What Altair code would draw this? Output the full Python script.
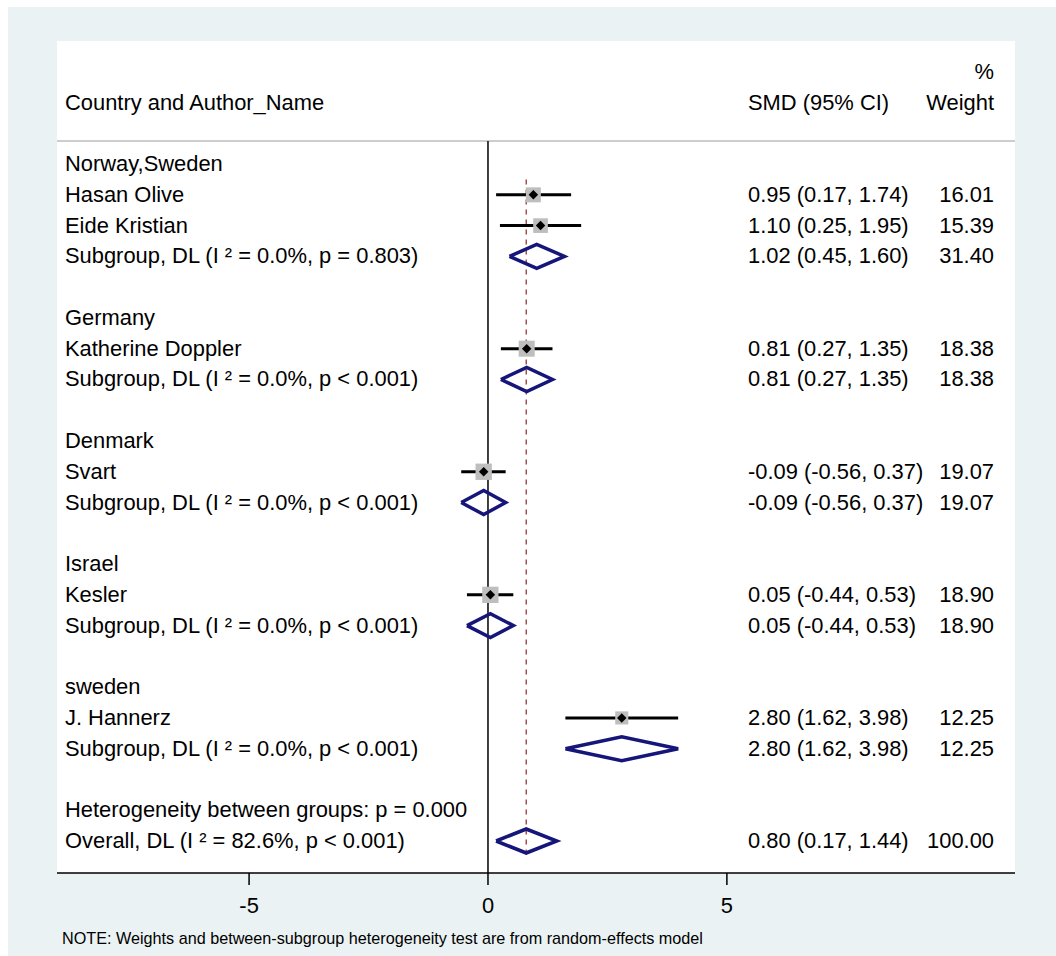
import altair as alt
import pandas as pd

# ---- data ----
row_idx = [0, 1, 2, 3, 5, 6, 7, 9, 10, 11, 13, 14, 15, 17, 18, 19, 21, 22]
row_label = [
    "Norway,Sweden", "Hasan Olive", "Eide Kristian",
    "Subgroup, DL (I ² = 0.0%, p = 0.803)",
    "Germany", "Katherine Doppler",
    "Subgroup, DL (I ² = 0.0%, p < 0.001)",
    "Denmark", "Svart",
    "Subgroup, DL (I ² = 0.0%, p < 0.001)",
    "Israel", "Kesler",
    "Subgroup, DL (I ² = 0.0%, p < 0.001)",
    "sweden", "J. Hannerz",
    "Subgroup, DL (I ² = 0.0%, p < 0.001)",
    "Heterogeneity between groups: p = 0.000",
    "Overall, DL (I ² = 82.6%, p < 0.001)",
]
row_kind = ["head", "study", "study", "pool", "head", "study", "pool", "head", "study", "pool",
            "head", "study", "pool", "head", "study", "pool", "het", "pool"]
est = [None, 0.95, 1.10, 1.02, None, 0.81, 0.81, None, -0.09, -0.09,
       None, 0.05, 0.05, None, 2.80, 2.80, None, 0.80]
lci = [None, 0.17, 0.25, 0.45, None, 0.27, 0.27, None, -0.56, -0.56,
       None, -0.44, -0.44, None, 1.62, 1.62, None, 0.17]
uci = [None, 1.74, 1.95, 1.60, None, 1.35, 1.35, None, 0.37, 0.37,
       None, 0.53, 0.53, None, 3.98, 3.98, None, 1.44]
weight = [None, 16.01, 15.39, 31.40, None, 18.38, 18.38, None, 19.07, 19.07,
          None, 18.90, 18.90, None, 12.25, 12.25, None, 100.00]
overall_est = 0.80
x_ticks = [-5, 0, 5]
x_tick_labels = ["-5", "0", "5"]

# ---- tables ----
rows = pd.DataFrame({"row": row_idx, "label": row_label, "kind": row_kind,
                     "est": est, "lci": lci, "uci": uci, "weight": weight})


def fmt(v):
    return f"{v:.2f}"


rows["smd"] = [
    "" if e is None or pd.isna(e) else f"{fmt(e)} ({fmt(l)}, {fmt(u)})"
    for e, l, u in zip(rows["est"], rows["lci"], rows["uci"])
]
rows["wt"] = ["" if w is None or pd.isna(w) else fmt(w) for w in rows["weight"]]

studies = rows[rows["kind"] == "study"].copy()
pools = rows[rows["kind"] == "pool"].copy()

HALF = 0.39
dia = []
for _, r in pools.iterrows():
    pts = [(r["lci"], r["row"]), (r["est"], r["row"] - HALF), (r["uci"], r["row"]),
           (r["est"], r["row"] + HALF), (r["lci"], r["row"])]
    for k, (xx, yy) in enumerate(pts):
        dia.append({"g": int(r["row"]), "o": k, "x": xx, "y": yy})
dia = pd.DataFrame(dia)

headers = pd.DataFrame({"row": [-2, -2, -2, -3],
                        "txt": ["Country and Author_Name", "SMD (95% CI)", "Weight", "%"],
                        "col": ["left", "smd", "wt", "wt"]})
ticks = pd.DataFrame({"x": x_ticks, "lab": x_tick_labels})

W, H = 958, 832
FONT = "Liberation Sans"
FS = 21.9
XDOM = [-9.02, 11.03]
YDOM = [-4, 23.04]

xs = alt.Scale(domain=XDOM, nice=False, zero=False)
ys = alt.Scale(domain=YDOM, reverse=True, nice=False, zero=False)
NOAX = None

base = alt.Chart(rows)

bg = alt.Chart(pd.DataFrame({"a": [0]})).mark_rect(color="#EAF2F3").encode(
    x=alt.value(-49), x2=alt.value(W + 41), y=alt.value(-34), y2=alt.value(H + 83))
white = alt.Chart(pd.DataFrame({"a": [0]})).mark_rect(color="white").encode(
    x=alt.value(0), x2=alt.value(W), y=alt.value(0), y2=alt.value(H))

hline = alt.Chart(pd.DataFrame({"y": [-0.75]})).mark_rule(color="#BDBDBD", strokeWidth=1.5).encode(
    y=alt.Y("y:Q", scale=ys, axis=NOAX), x=alt.value(0), x2=alt.value(W))

zero = alt.Chart(pd.DataFrame({"x": [0], "y": [-0.75], "y2": [YDOM[1]]})).mark_rule(
    color="black", strokeWidth=1.5).encode(
    x=alt.X("x:Q", scale=xs, axis=NOAX), y=alt.Y("y:Q", scale=ys, axis=NOAX), y2="y2:Q")

ovl = alt.Chart(pd.DataFrame({"x": [overall_est], "y": [0.5], "y2": [22.45]})).mark_rule(
    color="#8E2424", strokeWidth=1.2, strokeDash=[5, 5]).encode(
    x=alt.X("x:Q", scale=xs, axis=NOAX), y=alt.Y("y:Q", scale=ys, axis=NOAX), y2="y2:Q")

boxes = alt.Chart(studies).mark_square(color="#BEBEBE", opacity=1).encode(
    x=alt.X("est:Q", scale=xs, axis=NOAX), y=alt.Y("row:Q", scale=ys, axis=NOAX),
    size=alt.Size("weight:Q", scale=alt.Scale(type="linear", domain=[0, 20], range=[0, 280]), legend=None))

ci = alt.Chart(studies).mark_rule(color="black", strokeWidth=3).encode(
    x=alt.X("lci:Q", scale=xs, axis=NOAX), x2="uci:Q", y=alt.Y("row:Q", scale=ys, axis=NOAX))

pt = alt.Chart(studies).mark_point(shape="diamond", filled=True, color="black", size=90, opacity=1).encode(
    x=alt.X("est:Q", scale=xs, axis=NOAX), y=alt.Y("row:Q", scale=ys, axis=NOAX))

diam = alt.Chart(dia).mark_line(color="#16167A", strokeWidth=3.5, strokeJoin="miter").encode(
    x=alt.X("x:Q", scale=xs, axis=NOAX), y=alt.Y("y:Q", scale=ys, axis=NOAX), detail="g:N", order="o:Q")

txt_left = base.mark_text(align="left", baseline="middle", font=FONT, fontSize=FS, color="black").encode(
    x=alt.value(8), y=alt.Y("row:Q", scale=ys, axis=NOAX), text="label:N")
txt_smd = base.mark_text(align="left", baseline="middle", font=FONT, fontSize=FS, color="black").encode(
    x=alt.value(691), y=alt.Y("row:Q", scale=ys, axis=NOAX), text="smd:N")
txt_wt = base.mark_text(align="right", baseline="middle", font=FONT, fontSize=FS, color="black").encode(
    x=alt.value(937), y=alt.Y("row:Q", scale=ys, axis=NOAX), text="wt:N")

hdr = alt.Chart(headers)
h_left = hdr.transform_filter(alt.datum.col == "left").mark_text(
    align="left", baseline="middle", font=FONT, fontSize=FS, color="black").encode(
    x=alt.value(8), y=alt.Y("row:Q", scale=ys, axis=NOAX), text="txt:N")
h_smd = hdr.transform_filter(alt.datum.col == "smd").mark_text(
    align="left", baseline="middle", font=FONT, fontSize=FS, color="black").encode(
    x=alt.value(691), y=alt.Y("row:Q", scale=ys, axis=NOAX), text="txt:N")
h_wt = hdr.transform_filter(alt.datum.col == "wt").mark_text(
    align="right", baseline="middle", font=FONT, fontSize=FS, color="black").encode(
    x=alt.value(937), y=alt.Y("row:Q", scale=ys, axis=NOAX), text="txt:N")

note = alt.Chart(pd.DataFrame({"t": ["NOTE: Weights and between-subgroup heterogeneity test are from random-effects model"]})).mark_text(
    align="left", baseline="middle", font=FONT, fontSize=16.2, color="black").encode(
    x=alt.value(5), y=alt.value(H + 66), text="t:N")

# hand-drawn x axis (domain line, ticks, labels) on the shared x scale
ax_domain = alt.Chart(pd.DataFrame({"a": [0]})).mark_rule(color="black", strokeWidth=1.5).encode(
    x=alt.value(0), x2=alt.value(W), y=alt.value(H))
ax_ticks = alt.Chart(ticks).mark_rule(color="black", strokeWidth=1.5).encode(
    x=alt.X("x:Q", scale=xs, axis=NOAX), y=alt.value(H), y2=alt.value(H + 12))
ax_labels = alt.Chart(ticks).mark_text(align="center", baseline="alphabetic", font=FONT, fontSize=FS,
                                       color="black").encode(
    x=alt.X("x:Q", scale=xs, axis=NOAX), y=alt.value(H + 40), text="lab:N")

chart = alt.layer(
    bg, white, hline, zero, ovl, ci, boxes, pt, diam,
    txt_left, txt_smd, txt_wt, h_left, h_smd, h_wt, note, ax_domain, ax_ticks, ax_labels
).properties(
    width=W, height=H,
    autosize=alt.AutoSizeParams(type="none"),
    padding={"left": 57, "top": 41, "right": 41, "bottom": 83},
    background="white",
).configure_view(stroke=None, fill="white").resolve_scale(x="shared", y="shared")

chart.save("out.html", embed_options={"renderer": "svg", "actions": False})
